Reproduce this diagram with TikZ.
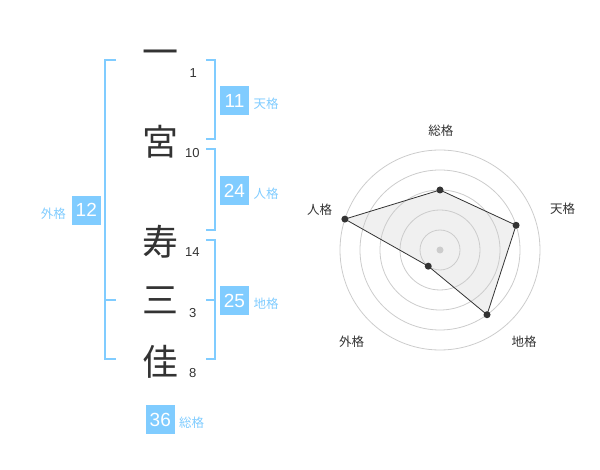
\documentclass[tikz,border=0pt]{standalone}
\usepackage{fontspec}
\usetikzlibrary{calc}
\setmainfont{Liberation Sans}
\newfontfamily\jp{Noto Sans CJK JP}
\definecolor{sky}{RGB}{128,204,255}
\definecolor{ink}{RGB}{51,51,51}
\definecolor{ring}{RGB}{204,204,204}
\definecolor{area}{RGB}{240,240,240}
\begin{document}
\begin{tikzpicture}[x=1pt,y=-1pt,
  kanji/.style={inner sep=0pt,text=ink,font=\jp\fontsize{36}{36}\selectfont},
  stroke/.style={inner sep=0pt,text=ink,font=\fontsize{13}{13}\selectfont},
  valbox/.style={fill=sky,text=white,minimum width=29pt,minimum height=29pt,inner sep=0pt,font=\fontsize{19}{19}\selectfont},
  kaku/.style={inner sep=0pt,text=sky,font=\jp\fontsize{12.5}{12.5}\selectfont},
  brk/.style={draw=sky,line width=2pt},
  axislbl/.style={inner sep=0pt,text=ink,font=\jp\fontsize{12.5}{12.5}\selectfont},
  dot/.style={circle,fill=ink,inner sep=0pt,minimum size=7pt}]
\useasboundingbox (0,0) rectangle (600,470);
% characters
\node[kanji] (c1) at (160,58) {一};
\node[kanji] (c2) at (160,142) {宮};
\node[kanji] (c3) at (160,242) {寿};
\node[kanji] (c4) at (160,300) {三};
\node[kanji] (c5) at (160,361.5) {佳};
% stroke counts
\node[stroke] (s1) at (193.3,72.7) {1};
\node[stroke] (s2) at (192.3,153.3) {10};
\node[stroke] (s3) at (192.3,252.3) {14};
\node[stroke] (s4) at (192.7,313.3) {3};
\node[stroke] (s5) at (192.7,373.3) {8};
% brackets
\draw[brk] (116,60) -- (104.5,60) -- (104.5,359.5) -- (116,359.5);
\draw[brk] (104.5,300) -- (116,300);
\draw[brk] (206,60) -- (214.5,60) -- (214.5,139.5) -- (206,139.5);
\draw[brk] (206,149.5) -- (214.5,149.5) -- (214.5,230) -- (206,230);
\draw[brk] (206,240) -- (214.5,240) -- (214.5,359.5) -- (206,359.5);
\draw[brk] (206,300) -- (214.5,300);
% values
\node[valbox] (ten) at (234.5,100.5) {11};
\node[kaku] (tenl) at (266,104) {天格};
\node[valbox] (jin) at (234.5,190.5) {24};
\node[kaku] (jinl) at (266,194) {人格};
\node[valbox] (chi) at (234.5,300.5) {25};
\node[kaku] (chil) at (266,303.5) {地格};
\node[valbox] (gai) at (86.3,210.3) {12};
\node[kaku] (gail) at (53.3,213.5) {外格};
\node[valbox] (sou) at (160.3,419.5) {36};
\node[kaku] (soul) at (191.7,422.5) {総格};
% radar
\coordinate (O) at (440,250);
\coordinate (pS) at ($(O)+(-90:60)$);
\coordinate (pT) at ($(O)+(-18:80)$);
\coordinate (pC) at ($(O)+(54:80)$);
\coordinate (pG) at ($(O)+(126:20)$);
\coordinate (pJ) at ($(O)+(198:100)$);
\fill[area] (pS) -- (pT) -- (pC) -- (pG) -- (pJ) -- cycle;
\foreach \r in {20,40,60,80,100}
  \draw[ring,line width=0.8pt] (O) circle (\r);
\draw[ink,line width=0.8pt] (pS) -- (pT) -- (pC) -- (pG) -- (pJ) -- cycle;
\node[circle,fill=ring,inner sep=0pt,minimum size=7pt] (ctr) at (O) {};
\node[dot] (dS) at (pS) {};
\node[dot] (dT) at (pT) {};
\node[dot] (dC) at (pC) {};
\node[dot] (dG) at (pG) {};
\node[dot] (dJ) at (pJ) {};
\node[axislbl] (lS) at (440.8,130.5) {総格};
\node[axislbl] (lT) at (562.5,208.7) {天格};
\node[axislbl] (lJ) at (319.5,209.7) {人格};
\node[axislbl] (lG) at (351.7,341.7) {外格};
\node[axislbl] (lC) at (524.2,341.7) {地格};
\end{tikzpicture}
\end{document}
